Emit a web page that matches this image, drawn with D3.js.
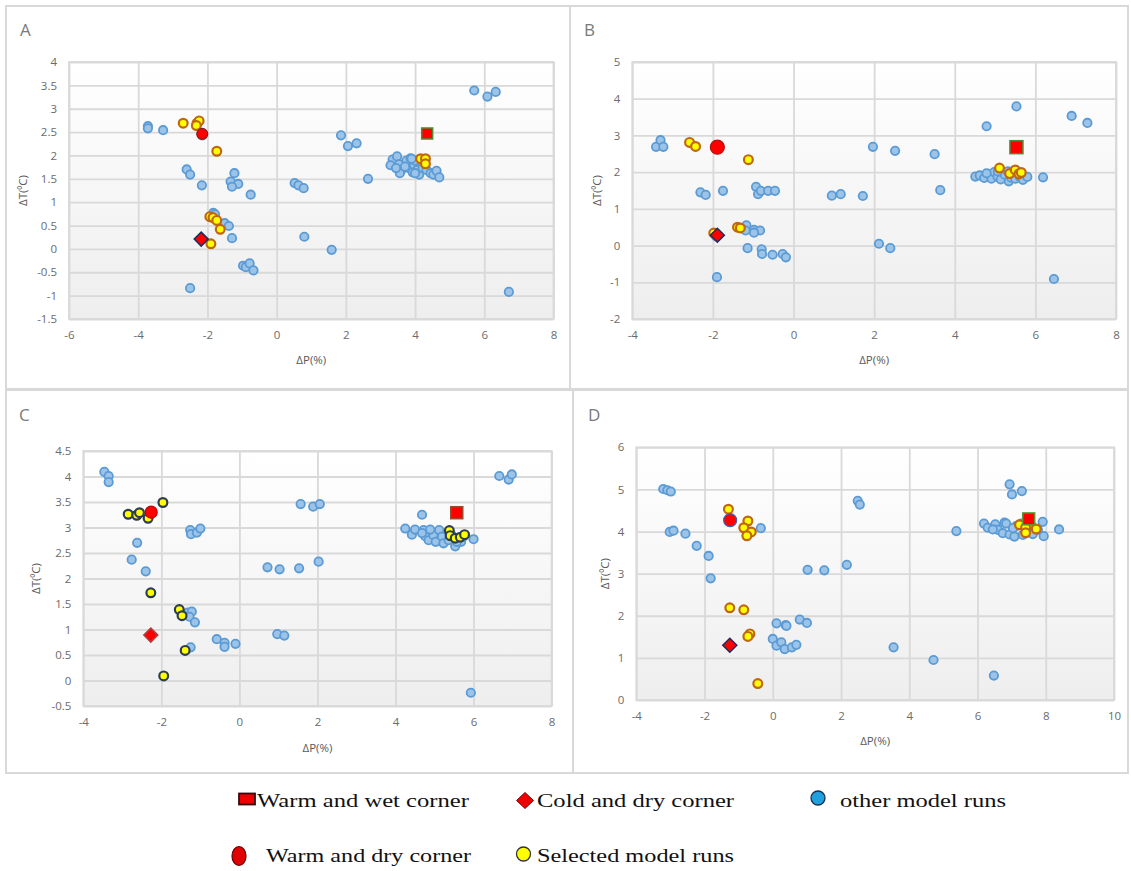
<!DOCTYPE html>
<html>
<head>
<meta charset="utf-8">
<script src="https://cdn.jsdelivr.net/npm/d3@7"></script>
<style>
  html, body { margin: 0; padding: 0; background: #ffffff; }
  svg { display: block; }
  .tick text { font-family: "Open Sans", "Liberation Sans", sans-serif; font-size: 11.5px; fill: #6b6b6b; }
</style>
</head>
<body>
<svg id="fig" width="1131" height="871"></svg>
<script>
// ---- Panel A: ΔP / ΔT pairs ----
const panelAOther = [
  [-3.72,2.63],[-3.72,2.58],[-3.28,2.54],[-2.60,1.70],[-2.50,1.59],[-2.16,1.36],
  [-1.22,1.62],[-1.33,1.44],[-1.11,1.39],[-1.29,1.33],[-0.75,1.16],
  [0.52,1.41],[0.63,1.36],[0.78,1.30],[1.86,2.43],[2.06,2.20],[2.31,2.26],[2.64,1.50],
  [3.35,1.91],[3.48,1.98],[3.29,1.79],[3.54,1.81],[3.61,1.69],[3.56,1.62],[3.75,1.89],
  [3.87,1.94],[3.83,1.73],[3.93,1.64],[3.97,1.80],[4.06,1.69],[4.12,1.59],[4.22,1.73],
  [4.33,1.69],[4.45,1.62],[4.53,1.59],[4.62,1.67],[4.70,1.53],[3.45,1.73],[3.71,1.76],
  [4.00,1.89],[3.90,1.93],[4.00,1.62],
  [-1.83,0.77],[-1.78,0.74],[-1.50,0.55],[-1.38,0.49],[-1.29,0.23],[0.80,0.26],[1.59,-0.02],
  [-0.97,-0.36],[-0.89,-0.39],[-0.78,-0.31],[-0.67,-0.46],[-2.50,-0.84],[6.71,-0.92],
  [5.71,3.39],[6.09,3.26],[6.33,3.36],[-2.15,2.43]
];
const panelASelected = [
  [-2.70,2.69],[-2.30,2.69],[-2.24,2.74],[-2.32,2.64],[-1.73,2.09],[-1.93,0.69],
  [-1.84,0.67],[-1.73,0.61],[-1.63,0.42],[-1.90,0.11],[4.16,1.93],[4.30,1.93],[4.30,1.82]
];
const panelAWarmWet = [4.35,2.47];
const panelAWarmDry = [-2.15,2.46];
const panelAColdDry = [-2.18,0.21];

// ---- Panel B ----
const panelBOther = [
  [-3.41,2.69],[-3.30,2.87],[-3.23,2.69],[-2.31,1.45],[-2.18,1.38],[-1.75,1.49],
  [-0.93,1.60],[-0.88,1.40],[-0.81,1.49],[-0.63,1.49],[-0.46,1.49],[0.95,1.36],[1.17,1.40],
  [1.72,1.35],[1.97,2.69],[2.52,2.58],[3.50,2.49],[3.64,1.51],[4.79,3.25],[5.53,3.79],
  [6.90,3.53],[7.29,3.34],[6.19,1.86],
  [4.51,1.88],[4.62,1.91],[4.73,1.84],[4.83,1.95],[4.91,1.82],[4.98,2.00],[5.06,1.88],
  [5.14,1.80],[5.24,1.93],[5.34,1.75],[5.40,1.85],[5.50,1.82],[5.61,1.88],[5.69,1.79],
  [5.80,1.87],[4.79,1.97],[5.07,2.02],[5.32,2.02],[5.55,2.00],
  [-1.17,0.55],[-0.98,0.43],[-0.83,0.41],[-1.19,0.41],[-0.98,0.35],[-1.14,-0.07],
  [-0.79,-0.10],[-0.78,-0.23],[-0.52,-0.25],[-0.27,-0.23],[-0.19,-0.32],[2.12,0.05],
  [2.40,-0.07],[-1.90,-0.86],[6.46,-0.91],[-1.92,0.25]
];
const panelBSelected = [
  [-2.58,2.81],[-2.43,2.70],[-1.12,2.34],[-1.39,0.50],[-1.32,0.48],[-1.98,0.34],
  [5.11,2.11],[5.36,1.96],[5.50,2.06],[5.59,1.95],[5.65,1.99]
];
const panelBWarmWet = [5.53,2.68];
const panelBWarmDry = [-1.89,2.68];
const panelBColdDry = [-1.89,0.28];

// ---- Panel C ----
const panelCOther = [
  [-3.46,4.09],[-3.35,4.01],[-3.35,3.89],[-1.26,2.95],[-1.24,2.87],[-1.09,2.90],[-1.00,2.98],
  [-2.62,2.70],[-2.76,2.37],[-2.40,2.14],[1.57,3.46],[1.89,3.41],[2.06,3.46],[4.68,3.25],
  [0.72,2.22],[1.03,2.18],[1.53,2.20],[2.03,2.33],
  [4.25,2.98],[4.42,2.86],[4.50,2.96],[4.72,2.95],[4.76,2.83],[4.85,2.75],[4.97,2.85],
  [5.03,2.72],[5.12,2.95],[5.19,2.82],[5.23,2.69],[5.36,2.75],[5.53,2.63],[5.68,2.72],
  [5.74,2.82],[6.00,2.77],[4.68,2.89],[4.89,2.96],[5.44,2.85],[5.57,2.72],
  [6.66,4.01],[6.90,3.94],[6.98,4.04],[-1.32,1.33],[-1.22,1.35],[-1.28,1.25],[-1.14,1.14],
  [-1.25,0.65],[-0.58,0.81],[-0.38,0.74],[-0.38,0.66],[-0.10,0.72],[0.97,0.91],[1.15,0.88],
  [5.93,-0.24]
];
const panelCSelected = [
  [-2.85,3.26],[-2.63,3.24],[-2.56,3.29],[-2.34,3.18],[-1.96,3.49],[-2.27,1.72],
  [-1.54,1.39],[-1.47,1.27],[-1.39,0.59],[-1.94,0.09],[5.38,2.94],[5.40,2.84],
  [5.53,2.79],[5.66,2.81],[5.77,2.86]
];
const panelCWarmWet = [5.57,3.29];
const panelCWarmDry = [-2.26,3.30];
const panelCColdDry = [-2.27,0.89];

// ---- Panel D ----
const panelDOther = [
  [-3.21,5.01],[-3.09,4.98],[-2.99,4.95],[-3.02,3.99],[-2.91,4.02],[-2.56,3.95],[-2.23,3.66],
  [-1.88,3.42],[-1.82,2.89],[-0.35,4.08],[2.49,4.73],[2.55,4.64],[1.02,3.09],[1.51,3.08],
  [2.17,3.21],[5.38,4.01],[6.94,5.12],[7.01,4.88],[7.30,4.96],
  [6.19,4.19],[6.30,4.09],[6.52,4.17],[6.60,4.04],[6.79,4.21],[6.84,4.19],[6.74,3.96],
  [6.94,3.93],[7.08,3.88],[7.13,4.13],[7.28,4.19],[7.33,3.92],[7.47,4.04],[7.62,3.94],
  [7.77,4.04],[7.91,4.23],[7.94,3.89],[7.57,4.16],[7.04,4.08],[6.45,4.05],
  [8.39,4.05],[0.11,1.82],[0.38,1.78],[0.79,1.91],[1.00,1.83],[0.40,1.76],[0.00,1.45],
  [0.11,1.29],[0.25,1.37],[0.35,1.21],[0.56,1.25],[0.69,1.31],[3.54,1.25],[4.71,0.95],
  [6.48,0.58],[-1.25,4.25]
];
const panelDSelected = [
  [-1.30,4.53],[-0.73,4.25],[-0.85,4.09],[-0.63,3.99],[-0.76,3.90],[-1.26,2.19],
  [-0.85,2.14],[-0.67,1.57],[-0.73,1.51],[-0.44,0.39],[7.23,4.16],[7.41,4.10],
  [7.72,4.06],[7.41,3.97]
];
const panelDWarmWet = [7.50,4.30];
const panelDWarmDry = [-1.25,4.27];
const panelDColdDry = [-1.26,1.30];

// ---- Axis ranges and tick values ----
const panelLetters = ["A", "B", "C", "D"];
const xDomains = [[-6, 8], [-4, 8], [-4, 8], [-4, 10]];
const yDomains = [[-1.5, 4], [-2, 5], [-0.5, 4.5], [0, 6]];
const xTickValues = [
  [-6, -4, -2, 0, 2, 4, 6, 8],
  [-4, -2, 0, 2, 4, 6, 8],
  [-4, -2, 0, 2, 4, 6, 8],
  [-4, -2, 0, 2, 4, 6, 8, 10]
];
const yTickValues = [
  [-1.5, -1, -0.5, 0, 0.5, 1, 1.5, 2, 2.5, 3, 3.5, 4],
  [-2, -1, 0, 1, 2, 3, 4, 5],
  [-0.5, 0, 0.5, 1, 1.5, 2, 2.5, 3, 3.5, 4, 4.5],
  [0, 1, 2, 3, 4, 5, 6]
];
const xAxisTitle = "ΔP(%)";
const yAxisTitle = "ΔT(⁰C)";

const legendLabels = ["Warm and wet corner", "Cold and dry corner", "other model runs",
                      "Warm and dry corner", "Selected model runs"];

// ---- Layout and styling per panel ----
const layout = [
  { box: [6, 6, 570, 389], plot: [69, 62, 553.5, 319], letter: [20, 36], yTitleX: 23, xTitleY: 360,
    sel: "#c0660f", dry: { r: 5.5, stroke: "#7f1f1f" }, wet: { s: 11, stroke: "#4e8a3a" }, cold: { s: 7, stroke: "#1f2d5a" } },
  { box: [570, 6, 1128, 389], plot: [632.3, 62, 1116, 319], letter: [584, 36], yTitleX: 597, xTitleY: 360,
    sel: "#c0660f", dry: { r: 7, stroke: "#b01010" }, wet: { s: 13, stroke: "#4e8a3a" }, cold: { s: 7, stroke: "#1f2d5a" } },
  { box: [6, 390, 573, 773], plot: [83.3, 451, 551.6, 706], letter: [19, 421], yTitleX: 36, xTitleY: 748,
    sel: "#2c3d52", dry: { r: 6, stroke: "#c00000" }, wet: { s: 12, stroke: "#9a4a2a" }, cold: { s: 7, stroke: "#b04040" } },
  { box: [573, 390, 1128, 773], plot: [636.3, 447.3, 1114, 700], letter: [588, 421], yTitleX: 605, xTitleY: 741,
    sel: "#c0660f", dry: { r: 6.5, stroke: "#3a64b8" }, wet: { s: 12, stroke: "#5a9a3a" }, cold: { s: 7, stroke: "#1f2d5a" } }
];

const panelData = [
  { other: panelAOther, selected: panelASelected, wet: panelAWarmWet, dry: panelAWarmDry, cold: panelAColdDry },
  { other: panelBOther, selected: panelBSelected, wet: panelBWarmWet, dry: panelBWarmDry, cold: panelBColdDry },
  { other: panelCOther, selected: panelCSelected, wet: panelCWarmWet, dry: panelCWarmDry, cold: panelCColdDry },
  { other: panelDOther, selected: panelDSelected, wet: panelDWarmWet, dry: panelDWarmDry, cold: panelDColdDry }
];

const svg = d3.select("#fig");
const defs = svg.append("defs");
const grad = defs.append("linearGradient").attr("id", "plotFill")
  .attr("x1", 0).attr("y1", 0).attr("x2", 0).attr("y2", 1);
grad.append("stop").attr("offset", "0%").attr("stop-color", "#ffffff");
grad.append("stop").attr("offset", "100%").attr("stop-color", "#eeeeee");

panelData.forEach((pd, i) => {
  const L = layout[i];
  const [x0, y0, x1, y1] = L.plot;
  const w = x1 - x0, h = y1 - y0;

  // chart frame
  svg.append("rect")
    .attr("x", L.box[0]).attr("y", L.box[1])
    .attr("width", L.box[2] - L.box[0]).attr("height", L.box[3] - L.box[1])
    .attr("fill", "none").attr("stroke", "#d9d9d9").attr("stroke-width", 2);

  const g = svg.append("g").attr("transform", `translate(${x0},${y0})`);
  const x = d3.scaleLinear().domain(xDomains[i]).range([0, w]);
  const y = d3.scaleLinear().domain(yDomains[i]).range([h, 0]);

  g.append("rect").attr("width", w).attr("height", h).attr("fill", "url(#plotFill)");

  // gridlines + tick labels
  const xa = g.append("g").attr("transform", `translate(0,${h})`)
    .call(d3.axisBottom(x).tickValues(xTickValues[i]).tickSize(-h).tickPadding(12).tickFormat(d => String(d)));
  const ya = g.append("g")
    .call(d3.axisLeft(y).tickValues(yTickValues[i]).tickSize(-w).tickPadding(12).tickFormat(d => String(d)));
  [xa, ya].forEach(a => {
    a.select(".domain").remove();
    a.selectAll(".tick line").attr("stroke", "#d9d9d9").attr("stroke-width", 1.8);
  });

  g.append("rect").attr("width", w).attr("height", h)
    .attr("fill", "none").attr("stroke", "#d9d9d9").attr("stroke-width", 1.8);

  // other model runs
  g.append("g").selectAll("circle").data(pd.other).join("circle")
    .attr("cx", d => x(d[0])).attr("cy", d => y(d[1])).attr("r", 4.2)
    .attr("fill", "#9cc3e8").attr("stroke", "#5b9bd5").attr("stroke-width", 1.8);

  // selected model runs
  g.append("g").selectAll("circle").data(pd.selected).join("circle")
    .attr("cx", d => x(d[0])).attr("cy", d => y(d[1])).attr("r", 4.4)
    .attr("fill", "#ffff00").attr("stroke", L.sel).attr("stroke-width", 2.2);

  // warm and dry corner
  g.append("circle").attr("cx", x(pd.dry[0])).attr("cy", y(pd.dry[1])).attr("r", L.dry.r)
    .attr("fill", "#ff0000").attr("stroke", L.dry.stroke).attr("stroke-width", 1.2);

  // cold and dry corner
  const cs = L.cold.s;
  g.append("path")
    .attr("d", `M0,${-cs}L${cs},0L0,${cs}L${-cs},0Z`)
    .attr("transform", `translate(${x(pd.cold[0])},${y(pd.cold[1])})`)
    .attr("fill", "#ff0000").attr("stroke", L.cold.stroke).attr("stroke-width", 1.5);

  // warm and wet corner
  const ws = L.wet.s;
  g.append("rect")
    .attr("x", x(pd.wet[0]) - ws / 2).attr("y", y(pd.wet[1]) - ws / 2)
    .attr("width", ws).attr("height", ws)
    .attr("fill", "#ff0000").attr("stroke", L.wet.stroke).attr("stroke-width", 1.5);

  // axis titles
  svg.append("text").attr("x", x0 + w / 2).attr("y", L.xTitleY).attr("dy", "0.35em")
    .attr("text-anchor", "middle")
    .style("font-family", "'Open Sans', sans-serif").style("font-size", "11.5px").style("fill", "#595959")
    .text(xAxisTitle);
  svg.append("text")
    .attr("transform", `translate(${L.yTitleX},${y0 + h / 2}) rotate(-90)`)
    .attr("dy", "0.35em").attr("text-anchor", "middle")
    .style("font-family", "'Open Sans', sans-serif").style("font-size", "11.5px").style("fill", "#595959")
    .text(yAxisTitle);

  // panel letter
  svg.append("text").attr("x", L.letter[0]).attr("y", L.letter[1])
    .style("font-family", "'Open Sans', sans-serif").style("font-size", "17px").style("fill", "#7a7a7a")
    .text(panelLetters[i]);
});

// ---- Legend ----
const lg = svg.append("g").style("font-family", "'Liberation Serif', 'Times New Roman', serif")
  .style("font-size", "19px").style("fill", "#111");
const legendText = (x, y, len, label) =>
  lg.append("text").attr("x", x).attr("y", y)
    .attr("textLength", len).attr("lengthAdjust", "spacingAndGlyphs").text(label);

lg.append("rect").attr("x", 239).attr("y", 793.5).attr("width", 16).attr("height", 11)
  .attr("fill", "#ee0000").attr("stroke", "#3a0a0a").attr("stroke-width", 1.8);
legendText(257, 807, 212, legendLabels[0]);

lg.append("path").attr("d", "M525,792.5L533.5,800.5L525,808.5L516.5,800.5Z")
  .attr("fill", "#ee0000").attr("stroke", "#8a0000").attr("stroke-width", 1);
legendText(537, 807, 197, legendLabels[1]);

lg.append("circle").attr("cx", 818).attr("cy", 798).attr("r", 7)
  .attr("fill", "#21a0e0").attr("stroke", "#1a3050").attr("stroke-width", 1.3);
legendText(840, 807, 166, legendLabels[2]);

lg.append("ellipse").attr("cx", 239).attr("cy", 856).attr("rx", 7).attr("ry", 9.5)
  .attr("fill", "#e00000").attr("stroke", "#6a0000").attr("stroke-width", 1.2);
legendText(266, 862, 205, legendLabels[3]);

lg.append("circle").attr("cx", 523.5).attr("cy", 854).attr("r", 7)
  .attr("fill", "#ffff00").attr("stroke", "#333").attr("stroke-width", 1.3);
legendText(537, 862, 197, legendLabels[4]);
</script>
</body>
</html>
